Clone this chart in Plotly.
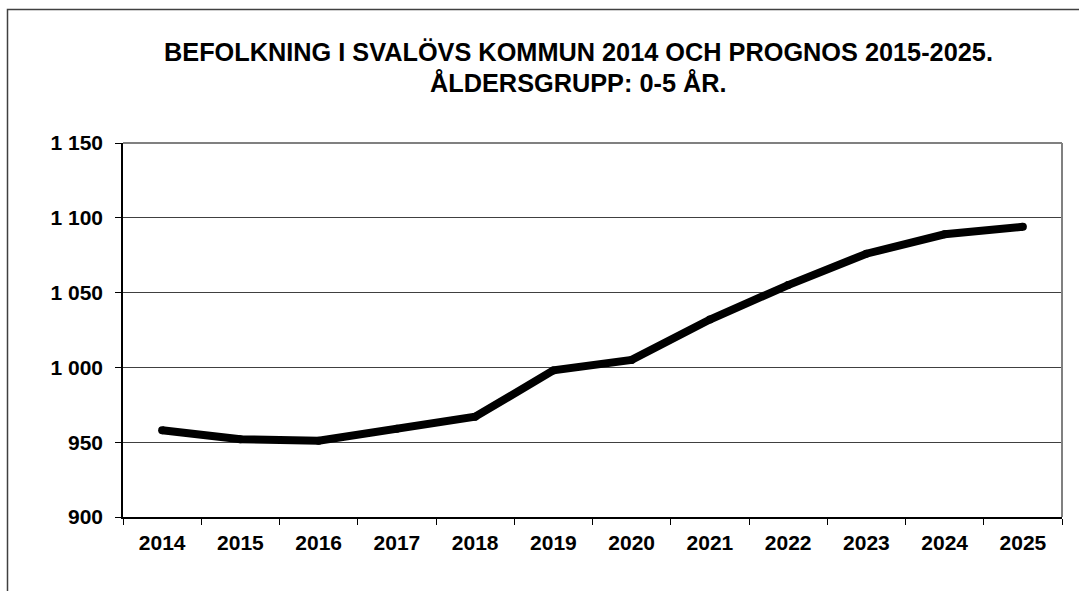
import plotly.graph_objects as go

years = ["2014", "2015", "2016", "2017", "2018", "2019", "2020",
         "2021", "2022", "2023", "2024", "2025"]
population = [958, 952, 951, 959, 967, 998, 1005, 1032, 1055, 1076, 1089, 1094]
y_tickvals = [900, 950, 1000, 1050, 1100, 1150]
y_ticktext = ["900", "950", "1 000", "1 050", "1 100", "1 150"]
title_lines = ["BEFOLKNING I SVALÖVS KOMMUN 2014 OCH PROGNOS 2015-2025.",
               "ÅLDERSGRUPP: 0-5 ÅR."]

W, H = 1079, 591
L, R, T, B = 123, 17, 143, 74
pw, ph = W - L - R, H - T - B

def px_x(p):
    return (p - L) / pw

def px_y(p):
    return (H - B - p) / ph

fig = go.Figure()
fig.add_trace(go.Scatter(
    x=years, y=population, mode="lines+markers",
    line=dict(color="black", width=8),
    marker=dict(color="black", size=8),
    hoverinfo="skip", showlegend=False,
))

font_family = "Liberation Sans, Arial, sans-serif"

fig.update_layout(
    width=W, height=H,
    margin=dict(l=L, r=R, t=T, b=B, pad=0),
    paper_bgcolor="white", plot_bgcolor="white",
    font=dict(family=font_family, color="black"),
    xaxis=dict(
        type="category", tickson="boundaries",
        range=[-0.5, len(years) - 0.5],
        tickvals=years, ticktext=["<b>" + y + "</b>" for y in years],
        ticks="outside", ticklen=6, tickcolor="black", tickwidth=1,
        showline=True, linecolor="black", linewidth=1.5,
        showgrid=False, zeroline=False,
        tickfont=dict(size=21, family=font_family, color="black"),
        ticklabelstandoff=6,
    ),
    yaxis=dict(
        range=[900, 1150], tickvals=y_tickvals,
        ticktext=["<b>" + t + "</b>" for t in y_ticktext],
        ticks="outside", ticklen=6, tickcolor="black", tickwidth=1,
        showline=True, linecolor="black", linewidth=1.5,
        showgrid=True, gridcolor="#404040", gridwidth=1,
        zeroline=False,
        tickfont=dict(size=21, family=font_family, color="black"),
        ticklabelstandoff=8,
    ),
)

# title as two centered lines
for text, yc in zip(title_lines, [51.5, 83.5]):
    fig.add_annotation(
        text="<b>" + text + "</b>", xref="paper", yref="paper",
        x=px_x(578), y=px_y(yc), xanchor="center", yanchor="middle",
        showarrow=False,
        font=dict(size=25.3, family=font_family, color="black"),
    )

# plot area top/right border (gray)
fig.add_shape(type="line", xref="paper", yref="paper", x0=0, x1=1, y0=1, y1=1,
              line=dict(color="#808080", width=2))
fig.add_shape(type="line", xref="paper", yref="paper", x0=1, x1=1, y0=0, y1=1,
              line=dict(color="#808080", width=2))
# outer chart frame
fig.add_shape(type="rect", xref="paper", yref="paper",
              x0=px_x(7.5), x1=px_x(1100), y0=px_y(620), y1=px_y(9.5),
              line=dict(color="#404040", width=1.5), fillcolor="rgba(0,0,0,0)")

fig.write_html("out.html",
               config={"displayModeBar": False},
               post_script="document.body.style.margin='0';document.body.style.overflow='hidden';")
